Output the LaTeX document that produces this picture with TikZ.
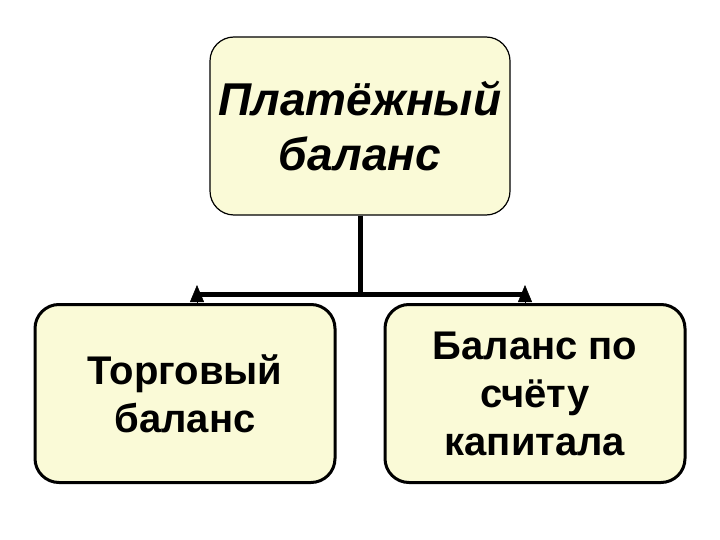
\documentclass[tikz,border=0pt]{standalone}
\usepackage{fontspec}
\setmainfont{Liberation Sans}
\usetikzlibrary{arrows.meta}
\definecolor{boxfill}{RGB}{250,250,215}

\begin{document}
\begin{tikzpicture}[x=1pt, y=-1pt,
  box/.style={draw, fill=boxfill, rounded corners=24pt, align=center,
    minimum width=300pt, minimum height=178pt, inner sep=0pt},
  link/.style={line width=5pt},
  tip/.style={line width=0.5pt, -{Triangle[width=14pt,length=17pt]}}]

  \useasboundingbox (0,0) rectangle (720,540);

  \node[box, line width=1.2pt, font=\fontsize{46}{55}\selectfont\bfseries\itshape]
    (plat) at (360,126) {Платёжный\\баланс};
  \node[box, line width=3pt, font=\fontsize{40}{48}\selectfont\bfseries]
    (torg) at (185,393.5) {Торговый\\баланс};
  \node[box, line width=3pt, font=\fontsize{40}{48}\selectfont\bfseries]
    (kap) at (535,393.5) {Баланс по\\счёту\\капитала};

  \coordinate (split) at (360,294);
  \coordinate (torgend) at (197,285);
  \coordinate (torgbase) at (197,303);
  \coordinate (kapend) at (525,285);
  \coordinate (kapbase) at (525,303);

  \draw[link] (plat.south) -- (split); %% down
  \draw[link] (split) -- (torgbase |- split); %% to left
  \draw[link] (split) -- (kapbase |- split); %% to right
  \draw[tip] (torgbase) -- (torgend);
  \draw[tip] (kapbase) -- (kapend);

\end{tikzpicture}
\end{document}
